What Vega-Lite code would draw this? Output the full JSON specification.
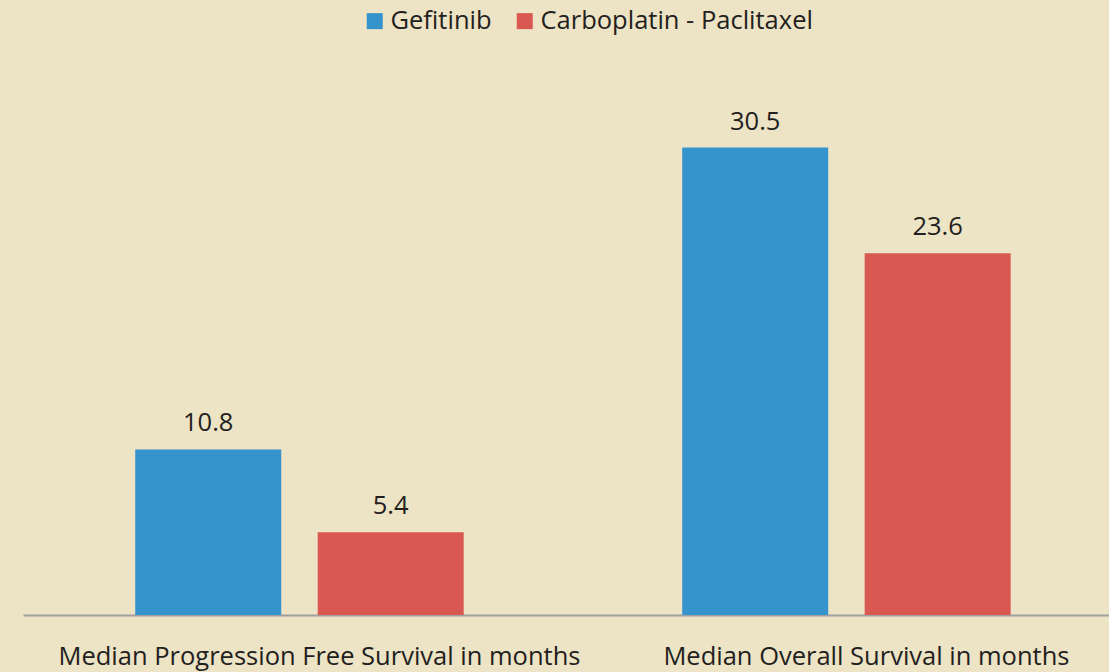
{
  "$schema": "https://vega.github.io/schema/vega-lite/v6.json",
  "width": 1086,
  "height": 567,
  "autosize": {"type": "none"},
  "padding": {"left": 23, "top": 48, "right": 0, "bottom": 57},
  "background": "#ede3c5",
  "config": {
    "view": {"stroke": null},
    "font": "Open Sans",
    "text": {"font": "Open Sans"}
  },
  "data": {
    "values": [
      {"measure": "Median Progression Free Survival in months", "treatment": "Gefitinib", "months": 10.8},
      {"measure": "Median Progression Free Survival in months", "treatment": "Carboplatin - Paclitaxel", "months": 5.4},
      {"measure": "Median Overall Survival in months", "treatment": "Gefitinib", "months": 30.5},
      {"measure": "Median Overall Survival in months", "treatment": "Carboplatin - Paclitaxel", "months": 23.6}
    ]
  },
  "encoding": {
    "x": {
      "field": "measure",
      "type": "nominal",
      "sort": null,
      "scale": {"paddingInner": 0.3995, "paddingOuter": 0.1925, "align": 0.533},
      "axis": {
        "title": null,
        "labelAngle": 0,
        "labelFontSize": 25.5,
        "labelColor": "#231f20",
        "labelPadding": 49,
        "labelBaseline": "alphabetic",
        "labelOffset": 20,
        "ticks": false,
        "domainColor": "#a0a0a0",
        "domainWidth": 2,
        "labelLimit": 0
      }
    },
    "xOffset": {
      "field": "treatment",
      "type": "nominal",
      "sort": ["Gefitinib", "Carboplatin - Paclitaxel"],
      "scale": {"paddingInner": 0.2, "paddingOuter": 0}
    },
    "y": {
      "field": "months",
      "type": "quantitative",
      "scale": {"domain": [0, 37]},
      "axis": null
    }
  },
  "layer": [
    {
      "mark": {"type": "bar"},
      "encoding": {
        "color": {
          "field": "treatment",
          "type": "nominal",
          "sort": ["Gefitinib", "Carboplatin - Paclitaxel"],
          "scale": {"domain": ["Gefitinib", "Carboplatin - Paclitaxel"], "range": ["#3594cc", "#d95852"]},
          "legend": {
            "title": null,
            "orient": "none",
            "direction": "horizontal",
            "legendX": 339,
            "legendY": -40,
            "symbolType": "square",
            "symbolSize": 256,
            "symbolStrokeWidth": 0,
            "symbolOpacity": 1,
            "labelFontSize": 25.5,
            "labelColor": "#231f20",
            "labelOffset": 3,
            "columnPadding": 20,
            "labelLimit": 0
          }
        }
      }
    },
    {
      "mark": {"type": "text", "baseline": "alphabetic", "dy": -18, "fontSize": 25.5, "color": "#231f20"},
      "encoding": {
        "text": {"field": "months", "type": "quantitative", "format": ".1f"}
      }
    }
  ]
}
